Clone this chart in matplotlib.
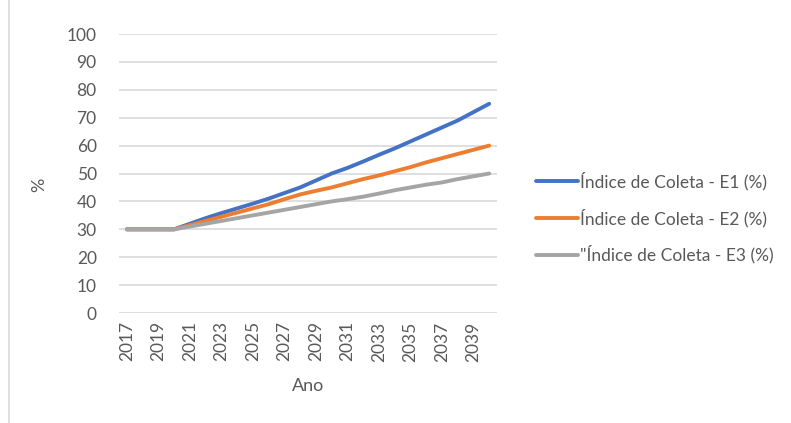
import matplotlib.pyplot as plt
from matplotlib.lines import Line2D

years = list(range(2017, 2041))
e1 = [30, 30, 30, 30, 32, 34, 35.8, 37.5, 39.2, 41, 43, 45, 47.5, 50, 52, 54.3, 56.7, 59, 61.5, 64, 66.5, 69, 72, 75]
e2 = [30, 30, 30, 30, 31.5, 33, 34.5, 36, 37.5, 39, 40.8, 42.5, 43.8, 45, 46.5, 48, 49.3, 50.8, 52.3, 54, 55.5, 57, 58.5, 60]
e3 = [30, 30, 30, 30, 31, 32, 33, 34, 35, 36, 37, 38, 39, 40, 40.8, 41.7, 42.8, 44, 45, 46, 46.8, 48, 49, 50]
labels = ["Índice de Coleta - E1 (%)", "Índice de Coleta - E2 (%)", "\"Índice de Coleta - E3 (%)"]
colors = ["#4472C4", "#ED7D31", "#A5A5A5"]

plt.rcParams['font.family'] = ['Lato', 'DejaVu Sans']
txt = "#595959"

fig = plt.figure(figsize=(7.91, 4.23), dpi=100)
ax = fig.add_axes([0.1504, 0.26, 0.478, 0.6596])

x = list(range(len(years)))
handles = []
for series, lab, col in zip([e1, e2, e3], labels, colors):
    h, = ax.plot(x, series, color=col, linewidth=2.8, solid_capstyle="round", label=lab)
    handles.append(h)

ax.set_xlim(-0.5, len(years) - 0.5)
ax.set_ylim(0, 100)
ax.set_yticks(range(0, 101, 10))
ax.set_xticks(x[::2])
ax.set_xticklabels([str(y) for y in years[::2]], rotation=90)
ax.grid(axis="y", color="#D9D9D9", linewidth=1.2)
ax.set_axisbelow(True)
for s in ax.spines.values():
    s.set_visible(False)
ax.tick_params(axis="both", length=0, labelsize=12.5, colors=txt, pad=6)
ax.tick_params(axis="y", pad=16)
ax.set_xlabel("Ano", fontsize=13, color=txt, labelpad=12)
ax.set_ylabel("%", fontsize=13, color=txt)
ax.yaxis.set_label_coords(-0.19, 0.46)

fig.legend(handles=handles, loc="center left", bbox_to_anchor=(0.658, 0.485),
           frameon=False, fontsize=12.5, labelcolor=txt, handlelength=2.4,
           handletextpad=0.1, labelspacing=1.05)

fig.add_artist(Line2D([0.011, 0.011], [0.0, 1.0], color="#D9D9D9", linewidth=1.2))

fig.savefig("out.png", dpi=100)
